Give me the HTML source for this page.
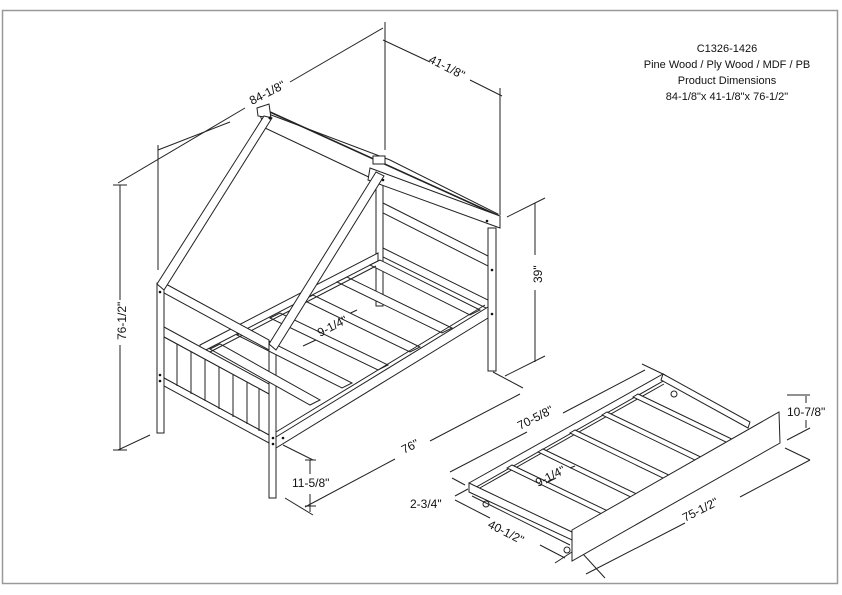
<!DOCTYPE html>
<html><head><meta charset="utf-8"><style>
html,body{margin:0;padding:0;background:#fff;}
svg{display:block;}
text{font-family:"Liberation Sans",sans-serif;fill:#111;}
</style></head><body>
<svg width="842" height="595" viewBox="0 0 842 595" xmlns="http://www.w3.org/2000/svg">
<rect x="2.5" y="10.5" width="835" height="573" fill="none" stroke="#999" stroke-width="1.5"/>
<g font-size="11" text-anchor="middle">
<text x="727" y="52">C1326-1426</text>
<text x="727" y="68">Pine Wood / Ply Wood / MDF / PB</text>
<text x="727" y="84">Product Dimensions</text>
<text x="727" y="100">84-1/8"x 41-1/8"x 76-1/2"</text>
</g>
<g stroke="#222" stroke-width="1" fill="none">
<line x1="118" y1="183" x2="245" y2="108"/><line x1="290" y1="82" x2="383" y2="28"/>
<line x1="158" y1="150" x2="230" y2="122"/>
<line x1="158" y1="145" x2="158" y2="270"/>
<line x1="385" y1="22" x2="385" y2="150"/>
<line x1="383" y1="40" x2="430" y2="62"/><line x1="470" y1="80" x2="502" y2="96"/>
<line x1="500" y1="88" x2="500" y2="215"/>
<line x1="120" y1="185" x2="120" y2="300"/><line x1="120" y1="345" x2="120" y2="450"/>
<line x1="113" y1="185" x2="127" y2="185"/><line x1="113" y1="450" x2="127" y2="450"/>
<line x1="118" y1="450" x2="150" y2="435"/>
<line x1="535" y1="203" x2="535" y2="255"/><line x1="535" y1="290" x2="535" y2="362"/>
<line x1="507" y1="217" x2="545" y2="198"/><line x1="505" y1="376" x2="545" y2="356"/>
<line x1="305" y1="507" x2="395" y2="459"/><line x1="430" y1="441" x2="520" y2="394"/>
<line x1="283" y1="445" x2="313" y2="460"/><line x1="285" y1="498" x2="313" y2="515"/>
<line x1="493" y1="372" x2="523" y2="388"/>
<line x1="310" y1="460" x2="310" y2="474"/><line x1="310" y1="494" x2="310" y2="512"/>
<line x1="305" y1="460" x2="316" y2="460"/><line x1="305" y1="506" x2="316" y2="506"/>
<line x1="303" y1="346" x2="318" y2="339"/><line x1="340" y1="318" x2="357" y2="310"/>
<rect x="157" y="283" width="7" height="150" fill="#fff"/>
<rect x="269" y="343" width="7" height="155" fill="#fff"/>
<rect x="488" y="228" width="8" height="143" fill="#fff"/>
<rect x="376" y="170" width="7" height="136" fill="#fff"/>
<polygon points="383,203 488,256 488,266 383,213" fill="#fff"/>
<polygon points="383,248 488,300 488,309 383,257" fill="#fff"/>
<polygon points="200,345 378,253 378,261 200,353" fill="#fff"/>
<polygon points="210,349 220,344 320,400 310,405" fill="#fff"/>
<polygon points="237,335 247,330 352,383 342,388" fill="#fff"/>
<polygon points="270,318 280,313 388,365 378,370" fill="#fff"/>
<polygon points="303,300 313,295 420,347 410,352" fill="#fff"/>
<polygon points="337,282 347,277 452,328 442,333" fill="#fff"/>
<polygon points="370,265 380,260 480,310 470,315" fill="#fff"/>
<line x1="206" y1="354" x2="376" y2="266"/>
<polygon points="276,437 488,307 488,318 276,448" fill="#fff"/>
<line x1="276" y1="432" x2="485" y2="305"/>
<polygon points="164,283 269,340 269,350 164,293" fill="#fff"/>
<polygon points="164,327 269,384 269,394 164,337" fill="#fff"/>
<polygon points="164,337 269,394 269,435 164,378" fill="#fff"/>
<polygon points="164,378 269,435 269,443 164,386" fill="#fff"/>
<line x1="177" y1="344" x2="177" y2="386"/><line x1="191" y1="351" x2="191" y2="394"/>
<line x1="205" y1="359" x2="205" y2="401"/><line x1="219" y1="367" x2="219" y2="409"/>
<line x1="233" y1="374" x2="233" y2="417"/><line x1="247" y1="382" x2="247" y2="424"/>
<line x1="259" y1="389" x2="259" y2="431"/>
<polygon points="258,110 390,160 498,214 498,224 375,180 265,128" fill="#fff"/>
<line x1="270" y1="112" x2="497" y2="215" stroke-width="1.6"/>
<polygon points="370,168 500,216 500,228 368,180" fill="#fff"/>
<rect x="373" y="156" width="12" height="8" fill="#fff"/>
<polygon points="257,108 269,104 271,118 258,116" fill="#fff"/>
<polygon points="264,116 272,118 164,290 157,284" fill="#fff"/>
<polygon points="376,172 384,176 276,350 269,344" fill="#fff"/>
</g>
<g fill="#111">
<circle cx="270" cy="118" r="1.5"/><circle cx="160" cy="292" r="1.3"/><circle cx="160" cy="375" r="1.3"/><circle cx="160" cy="381" r="1.3"/>
<circle cx="273" cy="438" r="1.3"/><circle cx="273" cy="444" r="1.3"/><circle cx="283" cy="438" r="1.3"/>
<circle cx="492" cy="270" r="1.3"/><circle cx="492" cy="314" r="1.3"/><circle cx="487" cy="221" r="1.3"/><circle cx="383" cy="180" r="1.3"/>
</g>
<g stroke="#222" stroke-width="1" fill="none">
<line x1="450" y1="472" x2="527" y2="432"/><line x1="563" y1="413" x2="645" y2="370"/>
<line x1="452" y1="478" x2="465" y2="485"/><line x1="642" y1="364" x2="665" y2="375"/>
<line x1="455" y1="500" x2="490" y2="518"/><line x1="540" y1="545" x2="565" y2="558"/>
<line x1="555" y1="563" x2="575" y2="550"/>
<line x1="455" y1="496" x2="468" y2="489"/>
<line x1="586" y1="574" x2="685" y2="523"/><line x1="740" y1="497" x2="810" y2="460"/>
<line x1="583" y1="554" x2="605" y2="578"/><line x1="785" y1="448" x2="810" y2="460"/>
<line x1="806" y1="396" x2="806" y2="403"/><line x1="806" y1="420" x2="806" y2="428"/>
<line x1="787" y1="395" x2="810" y2="395"/><line x1="787" y1="440" x2="810" y2="428"/>
<polygon points="469,483 663,374 665,380 471,490" fill="#fff"/>
<line x1="478" y1="489" x2="664" y2="384"/>
<polygon points="663,374 750,422 748,428 661,380" fill="#fff"/>
<polygon points="469,483 572,532 572,540 469,492" fill="#fff"/>
<line x1="472" y1="496" x2="570" y2="545"/>
<polygon points="507,468 512,465 612,513 606,516" fill="#fff"/>
<polygon points="538,452 543,449 643,497 637,500" fill="#fff"/>
<polygon points="570,433 575,430 675,478 669,481" fill="#fff"/>
<polygon points="602,415 607,412 707,460 701,463" fill="#fff"/>
<polygon points="633,397 638,394 738,442 732,445" fill="#fff"/>
<polygon points="572,530 779,412 780,443 572,561" fill="#fff"/>
<circle cx="486" cy="504" r="3"/><circle cx="567" cy="550" r="3"/><circle cx="674" cy="394" r="3"/>
<line x1="546" y1="483" x2="556" y2="478"/><line x1="570" y1="468" x2="575" y2="466"/>
</g>
<g font-size="12">
<text transform="translate(252,105) rotate(-27)">84-1/8"</text>
<text transform="translate(428,62) rotate(27)">41-1/8"</text>
<text transform="translate(542,283) rotate(-90)">39"</text>
<text transform="translate(126,340) rotate(-90)">76-1/2"</text>
<text transform="translate(320,337) rotate(-27)">9-1/4"</text>
<text transform="translate(404,454) rotate(-27)">76"</text>
<text x="292" y="487">11-5/8"</text>
<text x="410" y="508">2-3/4"</text>
<text transform="translate(520,430) rotate(-27)">70-5/8"</text>
<text x="787" y="416">10-7/8"</text>
<text transform="translate(538,487) rotate(-27)">9-1/4"</text>
<text transform="translate(487,527) rotate(27)">40-1/2"</text>
<text transform="translate(685,522) rotate(-27)">75-1/2"</text>
</g>
</svg>
</body></html>
